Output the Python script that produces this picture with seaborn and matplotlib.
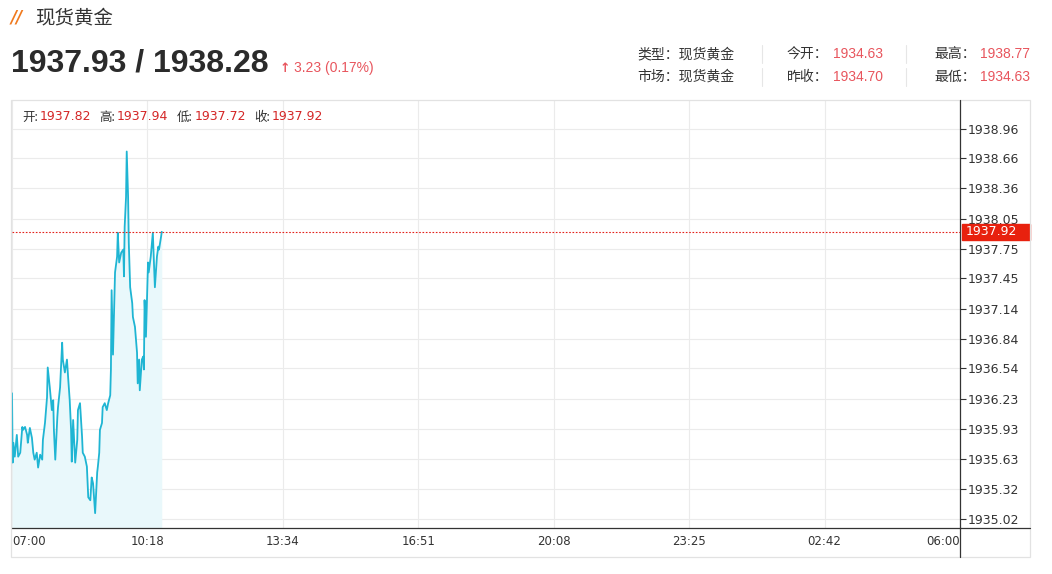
import matplotlib
matplotlib.use("Agg")
import matplotlib.pyplot as plt
from matplotlib.lines import Line2D
from matplotlib.patches import Rectangle
import matplotlib.transforms as mtransforms
import seaborn as sns
import pandas as pd

# minutes after 07:00 and spot gold price
minutes = [0, 1, 2, 4, 7, 9, 12, 15, 16, 19, 22, 23, 26, 29, 31, 33, 36, 38, 41, 44,
           45, 48, 51, 52, 55, 58, 60, 61, 63, 66, 67, 70, 73, 74, 77, 80, 82, 84, 86, 87,
           89, 92, 95, 96, 99, 102, 103, 106, 109, 111, 114, 116, 118, 121, 124, 125, 127, 128, 131, 132,
           135, 138, 140, 143, 144, 145, 147, 150, 153, 154, 156, 159, 162, 163, 164, 166, 167, 169, 170, 172,
           175, 176, 179, 182, 183, 185, 186, 189, 191, 192, 193, 195, 198, 199, 202, 205, 207, 208, 211, 213,
           214, 217, 218]
prices = [1936.29, 1935.59, 1935.79, 1935.65, 1935.87, 1935.65, 1935.69, 1935.95, 1935.92, 1935.95,
          1935.87, 1935.79, 1935.94, 1935.84, 1935.69, 1935.62, 1935.69, 1935.54, 1935.67, 1935.62,
          1935.82, 1935.99, 1936.25, 1936.55, 1936.35, 1936.12, 1936.22, 1935.92, 1935.62, 1936.05,
          1936.15, 1936.35, 1936.80, 1936.63, 1936.50, 1936.63, 1936.42, 1936.22, 1935.92, 1935.60,
          1936.02, 1935.59, 1935.82, 1936.12, 1936.19, 1935.85, 1935.69, 1935.65, 1935.55, 1935.24,
          1935.21, 1935.44, 1935.38, 1935.08, 1935.49, 1935.55, 1935.69, 1935.92, 1935.99, 1936.15,
          1936.19, 1936.12, 1936.19, 1936.27, 1936.53, 1937.33, 1936.68, 1937.51, 1937.67, 1937.91,
          1937.61, 1937.71, 1937.74, 1937.47, 1937.97, 1938.27, 1938.73, 1938.27, 1937.81, 1937.36,
          1937.20, 1937.06, 1936.96, 1936.70, 1936.39, 1936.63, 1936.32, 1936.63, 1936.66, 1936.53,
          1937.23, 1936.86, 1937.61, 1937.51, 1937.67, 1937.91, 1937.54, 1937.36, 1937.67, 1937.77,
          1937.74, 1937.87, 1937.92]

y_tick_labels = ["1935.02", "1935.32", "1935.63", "1935.93", "1936.23", "1936.54", "1936.84",
                 "1937.14", "1937.45", "1937.75", "1938.05", "1938.36", "1938.66", "1938.96"]
x_tick_labels = ["07:00", "10:18", "13:34", "16:51", "20:08", "23:25", "02:42", "06:00"]
session_minutes = 1380  # 07:00 -> 06:00 next day

last_price = 1937.92
ohlc = [("开", "1937.82"), ("高", "1937.94"), ("低", "1937.72"), ("收", "1937.92")]
bid_ask = "1937.93 / 1938.28"
change = "3.23 (0.17%)"
info_left = ["类型：现货黄金", "市场：现货黄金"]
info_mid = [("今开：", "1934.63"), ("昨收：", "1934.70")]
info_right = [("最高：", "1938.77"), ("最低：", "1934.63")]

df = pd.DataFrame({"minute": minutes, "price": prices})

sns.set_style("white")
plt.rcParams["font.family"] = ["Noto Sans CJK SC", "DejaVu Sans"]

W, H = 1052, 574
fig = plt.figure(figsize=(W / 100, H / 100), dpi=100)


def fx(px):
    return px / W


def fy(py):
    return 1 - py / H


ax = fig.add_axes([fx(12), fy(528), fx(960) - fx(12), fy(100) - fy(528)])

line_color = "#1fb5d3"
ax.fill_between(df["minute"], df["price"], 1934.93, color="#e9f8fb", lw=0, zorder=1)
sns.lineplot(data=df, x="minute", y="price", ax=ax, color=line_color, lw=1.3, zorder=3)

ax.set_xlim(0, session_minutes)
ax.set_ylim(1934.93, 1939.25)
ax.set_xlabel("")
ax.set_ylabel("")

yt = [float(v) for v in y_tick_labels]
ax.set_yticks(yt)
ax.set_yticklabels(y_tick_labels)
xt = [i * session_minutes / (len(x_tick_labels) - 1) for i in range(len(x_tick_labels))]
ax.set_xticks(xt)
ax.set_xticklabels(x_tick_labels)
ax.yaxis.tick_right()
ax.tick_params(axis="y", direction="out", length=4, width=0.8, color="#333333",
               labelsize=9, labelcolor="#333333", pad=1.5)
ax.tick_params(axis="x", direction="out", length=3, width=0.8, color="#333333",
               labelsize=8.5, labelcolor="#333333", pad=2)
for lab in ax.get_yticklabels() + ax.get_xticklabels():
    lab.set_fontfamily("DejaVu Sans")
xl = ax.get_xticklabels()
xl[0].set_ha("left")
xl[-1].set_ha("right")

ax.grid(True, color="#ebebeb", lw=0.8, zorder=0)
ax.set_axisbelow(True)
for side in ["top", "left"]:
    ax.spines[side].set_visible(False)
ax.spines["bottom"].set_color("#333333")
ax.spines["bottom"].set_linewidth(0.9)
ax.spines["right"].set_visible(False)

# last price dotted line and tag
ax.axhline(last_price, color="#e3221c", lw=0.8, ls=(0, (1.5, 1.5)), zorder=4)
blend = mtransforms.blended_transform_factory(ax.transAxes, ax.transData)
tag_h = 16 * (4.32 / 428)
ax.add_patch(Rectangle((1.0 + 1.5 / 948, last_price - tag_h / 2), 68 / 948, tag_h,
                       transform=blend, color="#e8210e", clip_on=False, zorder=6))
ax.text(1.0 + 6 / 948, last_price, f"{last_price:.2f}", transform=blend, color="white",
        fontsize=9, va="center", ha="left", family="DejaVu Sans", zorder=7)

# frame around chart block
fig.add_artist(Rectangle((fx(11), fy(557)), fx(1030) - fx(11), fy(100) - fy(557),
                         transform=fig.transFigure, fill=False, ec="#e2e2e2", lw=0.9))
fig.add_artist(Line2D([fx(960), fx(960)], [fy(557), fy(100)], transform=fig.transFigure,
                      color="#333333", lw=0.9))
fig.add_artist(Line2D([fx(960), fx(1030)], [fy(528), fy(528)], transform=fig.transFigure,
                      color="#333333", lw=0.9))

# OHLC row
ohlc_x = [22, 99, 177, 254]
for (k, v), x0 in zip(ohlc, ohlc_x):
    fig.text(fx(x0), fy(117), k + ":", fontsize=9, color="#333333", va="center")
    fig.text(fx(x0 + 18), fy(117), v, fontsize=9, color="#d42626", va="center",
             family="DejaVu Sans")

# header
fig.text(fx(11), fy(18), "//", fontsize=12, color="#f07a1f", fontweight="bold",
         style="italic", va="center", family="DejaVu Sans")
fig.text(fx(35), fy(18), "现货黄金", fontsize=14, color="#333333", va="center")
fig.text(fx(11), fy(63), bid_ask, fontsize=23, fontweight="bold", color="#2b2b2b",
         va="center", family="Liberation Sans")
fig.text(fx(280), fy(68), "↑", fontsize=9, fontweight="bold", color="#e8555d",
         va="center", family="DejaVu Sans")
fig.text(fx(294), fy(68), change, fontsize=10, color="#e8555d", va="center",
         family="Liberation Sans")

rows_y = [54, 77]
for i, y0 in enumerate(rows_y):
    fig.text(fx(637), fy(y0), info_left[i], fontsize=10, color="#333333", va="center")
    fig.text(fx(787), fy(y0), info_mid[i][0], fontsize=10, color="#333333", va="center")
    fig.text(fx(833), fy(y0), info_mid[i][1], fontsize=10, color="#e8555d", va="center",
             family="Liberation Sans")
    fig.text(fx(934), fy(y0), info_right[i][0], fontsize=10, color="#333333", va="center")
    fig.text(fx(1030), fy(y0), info_right[i][1], fontsize=10, color="#e8555d", va="center",
             ha="right", family="Liberation Sans")
    for sx in [762, 906]:
        fig.add_artist(Line2D([fx(sx), fx(sx)], [fy(y0 - 9), fy(y0 + 9)],
                              transform=fig.transFigure, color="#e6e6e6", lw=0.8))

fig.savefig("out.png", dpi=100)
